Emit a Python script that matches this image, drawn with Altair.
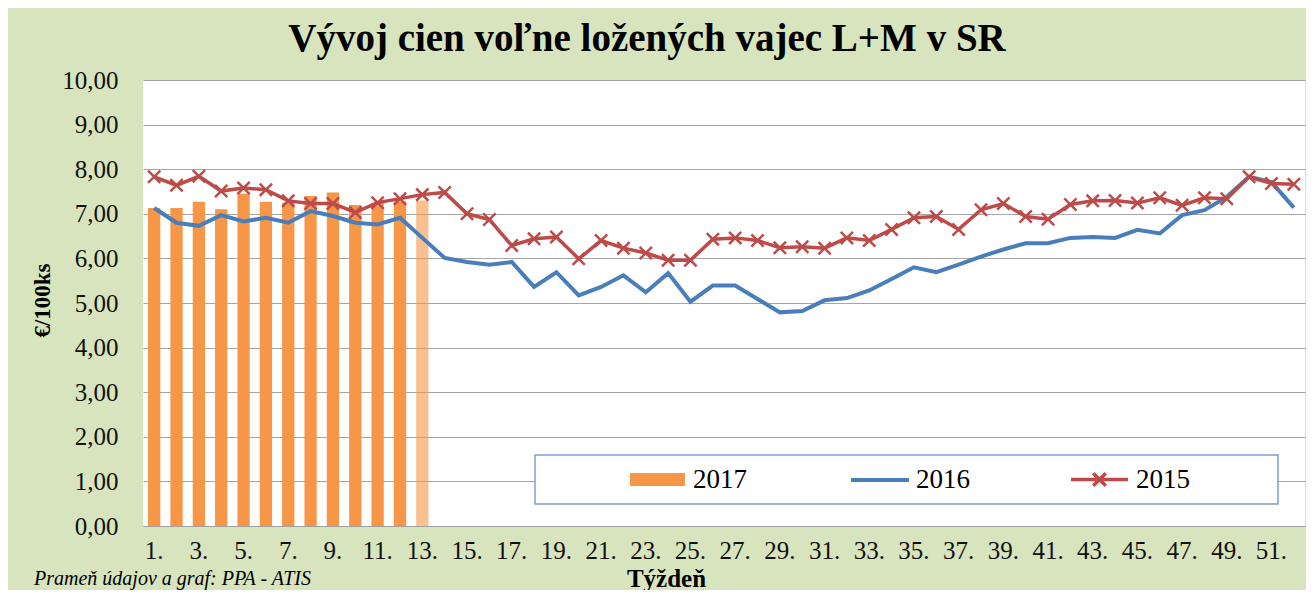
import altair as alt
import pandas as pd

weeks = list(range(1, 53))

v2017 = [7.13, 7.13, 7.27, 7.10, 7.45, 7.27, 7.25, 7.40, 7.48, 7.20, 7.25, 7.28, 7.30]

v2016 = [7.13, 6.80, 6.73, 6.97, 6.83, 6.91, 6.80, 7.06, 6.95, 6.80, 6.76, 6.91, 6.46,
         6.01, 5.92, 5.86, 5.92, 5.36, 5.69, 5.17, 5.36, 5.62, 5.24, 5.67, 5.03, 5.39,
         5.39, 5.09, 4.79, 4.82, 5.06, 5.11, 5.28, 5.54, 5.80, 5.69, 5.86, 6.04, 6.20,
         6.34, 6.34, 6.46, 6.48, 6.46, 6.64, 6.56, 6.97, 7.08, 7.38, 7.83, 7.71, 7.14]

v2015 = [7.83, 7.64, 7.84, 7.51, 7.58, 7.54, 7.29, 7.23, 7.23, 7.03, 7.25, 7.34, 7.43,
         7.48, 7.00, 6.87, 6.29, 6.44, 6.48, 5.99, 6.40, 6.23, 6.12, 5.96, 5.96, 6.43,
         6.46, 6.40, 6.24, 6.26, 6.23, 6.46, 6.40, 6.65, 6.91, 6.94, 6.65, 7.09, 7.23,
         6.94, 6.88, 7.21, 7.29, 7.30, 7.24, 7.36, 7.19, 7.36, 7.34, 7.83, 7.68, 7.66]

title_text = "Vývoj cien voľne ložených vajec L+M v SR"
y_title = "€/100ks"
x_title = "Týždeň"
source_text = "Prameň údajov a graf: PPA - ATIS"

ORANGE = "#F79646"
BLUE = "#4A7EBB"
RED = "#BE4B48"
SERIF = "Times New Roman, Liberation Serif, serif"

bars_df = pd.DataFrame({"week": weeks[:len(v2017)], "value": v2017, "series": "2017"})
d2016 = pd.DataFrame({"week": weeks, "value": v2016, "series": "2016"})
d2015 = pd.DataFrame({"week": weeks, "value": v2015, "series": "2015"})

x_enc = alt.X(
    "week:O",
    scale=alt.Scale(domain=weeks, paddingInner=0.45, paddingOuter=0.225),
    axis=alt.Axis(
        title=x_title,
        labelExpr="datum.value % 2 == 1 ? datum.value + '.' : ''",
        labelAngle=0,
        labelFont=SERIF,
        labelFontSize=25,
        labelColor="#111111",
        labelPadding=12,
        ticks=False,
        domainColor="#A0A0A0",
        domainWidth=1,
        titleFont=SERIF,
        titleFontSize=25,
        titleFontWeight="bold",
        titleColor="#000000",
        titleX=523,
        titleY=60,
        titleAnchor="middle",
        titleAlign="center",
        titleBaseline="alphabetic",
        labelOverlap=False,
    ),
)

y_scale = alt.Scale(domain=[0, 10], nice=False)
y_enc = alt.Y(
    "value:Q",
    scale=y_scale,
    axis=alt.Axis(
        title=y_title,
        values=list(range(0, 11)),
        labelExpr="replace(format(datum.value, '.2f'), '.', ',')",
        labelFont=SERIF,
        labelFontSize=25,
        labelColor="#111111",
        labelPadding=25,
        ticks=False,
        domain=False,
        grid=True,
        gridColor="#A6A6A6",
        gridWidth=1,
        titleFont=SERIF,
        titleFontSize=23,
        titleFontWeight="bold",
        titleColor="#000000",
        titleAngle=270,
        titleX=-101,
        titleY=220,
        titleAlign="center",
        titleBaseline="middle",
    ),
)

bars = alt.Chart(bars_df).mark_bar().encode(
    x=x_enc,
    y=y_enc,
    fill=alt.Fill(
        "series:N",
        scale=alt.Scale(domain=["2017"], range=[ORANGE]),
        legend=alt.Legend(
            orient="none", legendX=487, legendY=372, direction="horizontal", title=None,
            padding=0, labelFont=SERIF, labelFontSize=27, labelColor="#000000",
            symbolType="M-1,-0.24H1V0.24H-1Z", symbolSize=3025, symbolStrokeWidth=0,
            symbolOpacity=1, labelOffset=8,
        ),
    ),
    opacity=alt.condition(alt.datum.week == 13, alt.value(0.6), alt.value(1.0)),
)

line16 = alt.Chart(d2016).mark_line(strokeWidth=4).encode(
    x=x_enc,
    y=y_enc,
    stroke=alt.Stroke(
        "series:N",
        scale=alt.Scale(domain=["2016"], range=[BLUE]),
        legend=alt.Legend(
            orient="none", legendX=706, legendY=369, direction="horizontal", title=None,
            padding=0, labelFont=SERIF, labelFontSize=27, labelColor="#000000",
            symbolType="M-1,0H1", symbolSize=3364, symbolStrokeWidth=4, labelOffset=5,
        ),
    ),
)

line15 = alt.Chart(d2015).mark_line(strokeWidth=3.5).encode(
    x=x_enc,
    y=y_enc,
    stroke=alt.Stroke(
        "series:N",
        scale=alt.Scale(domain=["2015"], range=[RED]),
        legend=alt.Legend(
            orient="none", legendX=926, legendY=369, direction="horizontal", title=None,
            padding=0, labelFont=SERIF, labelFontSize=27, labelColor="#000000",
            symbolType="M-1,0H1M-0.22,-0.22L0.22,0.22M-0.22,0.22L0.22,-0.22",
            symbolSize=3249, symbolStrokeWidth=3.5, labelOffset=6,
        ),
    ),
)

marks15 = alt.Chart(d2015).mark_point(
    shape="M-1,-1L1,1M-1,1L1,-1", size=150, filled=False, strokeWidth=2.5,
    color=RED, opacity=1,
).encode(x=x_enc, y=y_enc)

legend_box = alt.Chart(alt.Data(values=[{"k": 1}])).mark_rect(
    fill="#FFFFFF", stroke="#7F9FCF", strokeWidth=1.5
).encode(
    x=alt.value(392), x2=alt.value(1135), y=alt.value(375), y2=alt.value(424)
)

source = alt.Chart(alt.Data(values=[{"t": source_text}])).mark_text(
    font=SERIF, fontSize=20, fontStyle="italic", align="left", baseline="alphabetic",
    color="#000000",
).encode(x=alt.value(-109), y=alt.value(505), text="t:N")

chart = alt.layer(bars, line16, line15, marks15, legend_box, source).resolve_scale(
    fill="independent", stroke="independent"
).resolve_legend(
    fill="independent", stroke="independent"
).properties(
    width=1162,
    height=446,
    autosize=alt.AutoSizeParams(type="none"),
    padding={"left": 135, "top": 72, "right": 1, "bottom": 64},
    background="#D7E4BD",
    title=alt.Title(
        title_text, font=SERIF, fontSize=39, fontWeight="bold", color="#000000",
        anchor="middle", frame="group", dx=-77, offset=9,
    ),
).configure_view(fill="#FFFFFF", stroke=None)

chart.save("out.html", embed_options={"renderer": "svg", "actions": False})
